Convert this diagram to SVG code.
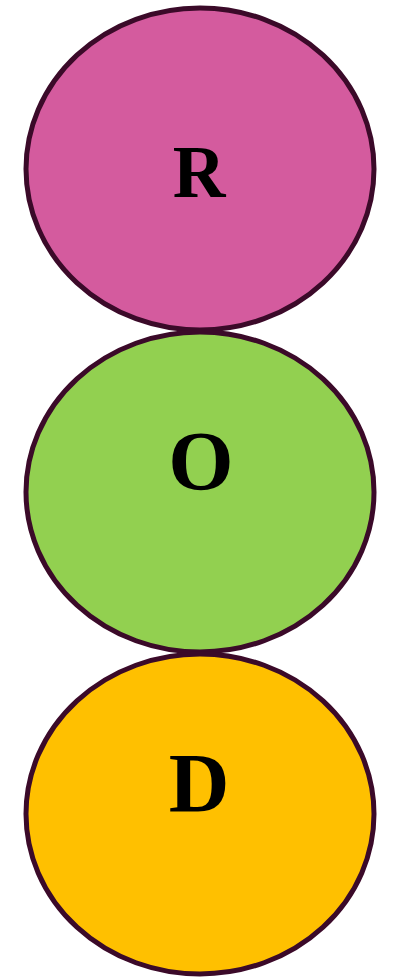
<svg xmlns="http://www.w3.org/2000/svg" width="393" height="977" viewBox="0 0 393 977">
<style>
.n{stroke:#3b0a29;stroke-width:5}
.t{font-family:'Liberation Serif',serif;font-weight:700;fill:#000;text-anchor:middle}
</style>
<rect width="393" height="977" fill="#fff"/>
<g id="connectors"></g>
<g id="node-R">
<ellipse class="n" cx="200" cy="169" rx="174" ry="161" fill="#d45b9e"/>
<text class="t" x="199" y="197" font-size="73">R</text>
</g>
<g id="node-O">
<ellipse class="n" cx="200" cy="492" rx="174" ry="160" fill="#92d050"/>
<text class="t" x="201" y="490" font-size="84">O</text>
</g>
<g id="node-D">
<ellipse class="n" cx="200" cy="814" rx="174" ry="160" fill="#ffc000"/>
<text class="t" x="199" y="812" font-size="84">D</text>
</g>
</svg>
